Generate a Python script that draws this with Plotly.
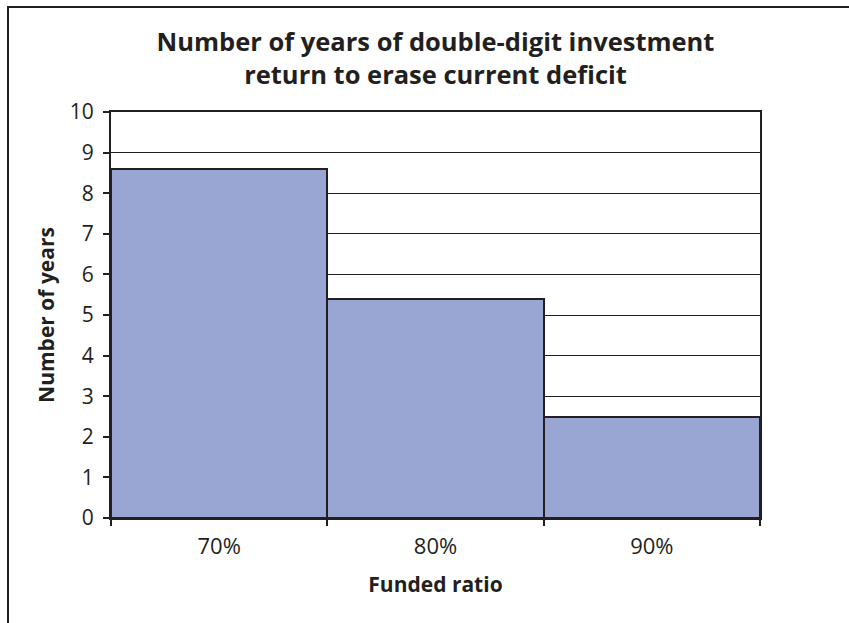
import plotly.graph_objects as go

# Funded ratio categories and years of double-digit return needed
funded_ratio = ["70%", "80%", "90%"]
years_needed = [8.6, 5.4, 2.5]
y_ticks = list(range(0, 11))

ink = "#231f20"
bar_fill = "#99a5d3"
font_family = "Open Sans, Noto Sans, DejaVu Sans, sans-serif"

fig = go.Figure(
    go.Bar(
        x=funded_ratio,
        y=years_needed,
        marker=dict(color=bar_fill, line=dict(color=ink, width=2)),
        hoverinfo="x+y",
    )
)

fig.update_layout(
    width=849,
    height=623,
    margin=dict(l=111, r=89, t=112, b=105),
    paper_bgcolor="white",
    plot_bgcolor="white",
    bargap=0,
    showlegend=False,
    font=dict(family=font_family, color=ink),
    title=dict(
        text="<b>Number of years of double-digit investment<br>return to erase current deficit</b>",
        x=0.5,
        xref="paper",
        xanchor="center",
        y=0.918,
        yanchor="middle",
        font=dict(size=25.5, color=ink, family=font_family),
    ),
    xaxis=dict(
        type="category",
        title=dict(text="<b>Funded ratio</b>", font=dict(size=21), standoff=18),
        tickfont=dict(size=22),
        ticklabelstandoff=8,
        showline=True,
        linecolor=ink,
        linewidth=2,
        mirror=True,
        ticks="outside",
        tickson="boundaries",
        ticklen=6,
        tickwidth=2,
        tickcolor=ink,
        showgrid=False,
        zeroline=False,
    ),
    yaxis=dict(
        title=dict(text="<b>Number of years</b>", font=dict(size=21), standoff=9),
        range=[0, 10],
        tickvals=y_ticks,
        tickfont=dict(size=21),
        ticklabelstandoff=5,
        showline=True,
        linecolor=ink,
        linewidth=2,
        mirror=True,
        ticks="outside",
        ticklen=6,
        tickwidth=2,
        tickcolor=ink,
        showgrid=True,
        gridcolor=ink,
        gridwidth=1,
        zeroline=False,
    ),
    shapes=[
        # chart frame (runs off the right and bottom of the page)
        dict(
            type="rect",
            xref="paper",
            yref="paper",
            x0=-0.1587,
            x1=1.3,
            y0=-0.4,
            y1=1.2586,
            line=dict(color=ink, width=2),
            fillcolor="rgba(0,0,0,0)",
            layer="below",
        )
    ],
)

fig.write_html("out.html")
